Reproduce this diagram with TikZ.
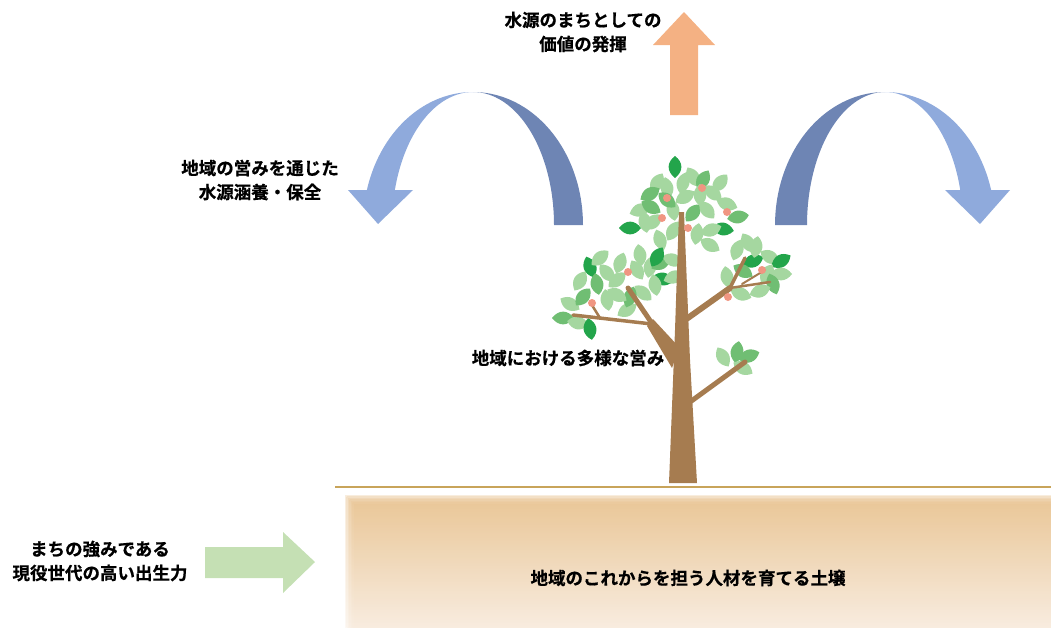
\documentclass[tikz,border=0pt]{standalone}
\usepackage{fontspec}
\newfontfamily\jp{Noto Sans CJK JP}[BoldFont={* Bold}, BoldFeatures={FakeBold=0.6}]
\definecolor{arrowLight}{RGB}{143,170,220}
\definecolor{arrowDark}{RGB}{110,133,180}
\definecolor{upOrange}{RGB}{244,177,131}
\definecolor{inGreen}{RGB}{197,224,180}
\definecolor{bark}{RGB}{166,124,80}
\definecolor{leafA}{RGB}{165,215,160}
\definecolor{leafB}{RGB}{112,190,115}
\definecolor{leafC}{RGB}{35,165,75}
\definecolor{fruit}{RGB}{240,150,130}
\definecolor{groundLine}{RGB}{200,164,90}
\definecolor{soilTop}{RGB}{232,195,145}
\definecolor{soilBot}{RGB}{247,234,220}
\begin{document}
\begin{tikzpicture}[x=1pt,y=-1pt,
  lbl/.style={font=\jp\bfseries\fontsize{17.5}{24}\selectfont, align=center, inner sep=0pt, text=black},
  branch/.style={draw=bark, line cap=round, line join=round}]
\useasboundingbox (0,0) rectangle (1051,627);

% ---- soil with soft edges ----
\foreach \k in {0,...,6}{
  \shade[top color=soilTop, bottom color=soilBot, fill opacity=0.3]
    (345+\k*1.5, 495+\k*1.5) rectangle (1051,627);
}
\draw[groundLine, line width=2.8pt] (335,487) -- (1051,487);

% ---- upward arrow ----
\fill[upOrange] (670,115) -- (670,45) -- (653,45) -- (684,12) -- (715,45) -- (698,45) -- (698,115) -- cycle;

% ---- inflow arrow ----
\fill[inGreen] (205,547) -- (283,547) -- (283,532) -- (315,562) -- (283,593) -- (283,578) -- (205,578) -- cycle;

% ---- left curved arrow (centre 473,225) ----
\fill[arrowDark] plot[domain=90:0, samples=40] ({473+110*cos(\x)},{225-133*sin(\x)})
  -- plot[domain=0:90, samples=40] ({473+81*cos(\x)},{225-133*sin(\x)}) -- cycle;
\fill[arrowLight] plot[domain=90:164.7, samples=40] ({473+110*cos(\x)},{225-133*sin(\x)})
  -- plot[domain=164.7:90, samples=40] ({473+81*cos(\x)},{225-133*sin(\x)}) -- cycle;
\fill[arrowLight] (348,190) -- (413,190) -- (378,224) -- cycle;

% ---- right curved arrow (centre 885,225) ----
\fill[arrowDark] plot[domain=90:180, samples=40] ({885+110*cos(\x)},{225-133*sin(\x)})
  -- plot[domain=180:90, samples=40] ({885+78*cos(\x)},{225-133*sin(\x)}) -- cycle;
\fill[arrowLight] plot[domain=90:15.3, samples=40] ({885+110*cos(\x)},{225-133*sin(\x)})
  -- plot[domain=15.3:90, samples=40] ({885+78*cos(\x)},{225-133*sin(\x)}) -- cycle;
\fill[arrowLight] (945,190) -- (1010,190) -- (980,224) -- cycle;

% ---- leaves ----
\foreach \lx/\ly/\la/\lc in {
  675/167/90/leafC, 657/183/60/leafA, 667/188/100/leafA, 683/183/75/leafA,
  693/177/120/leafA, 703/180/60/leafB, 650/194/30/leafB, 713/193/140/leafA,
  727/204/160/leafA, 738/217/10/leafB, 640/210/20/leafA, 651/207/150/leafB,
  630/228/0/leafC, 653/222/40/leafA, 673/210/100/leafA, 693/213/50/leafB,
  707/210/130/leafA, 723/229/170/leafC, 697/234/80/leafA, 711/230/20/leafA,
  673/231/60/leafA, 667/200/140/leafB, 685/197/30/leafA, 660/240/110/leafA,
  700/195/90/leafA, 720/183/50/leafA, 645/222/100/leafA, 710/245/150/leafA,
  590/267/110/leafC, 620/263/70/leafA, 607/273/130/leafA, 580/281/60/leafA,
  597/284/100/leafB, 617/280/40/leafA, 637/270/120/leafA, 650/267/80/leafA,
  661/263/30/leafB, 673/260/160/leafA, 657/257/60/leafC, 663/279/170/leafC,
  674/277/20/leafA, 570/304/150/leafA, 583/297/50/leafB, 607/300/100/leafA,
  627/310/30/leafA, 643/293/140/leafA, 563/318/0/leafB, 578/323/170/leafA,
  590/329/100/leafC, 630/297/70/leafB, 617/295/150/leafA, 655/285/100/leafA,
  600/258/40/leafA, 640/255/100/leafA,
  737/250/70/leafA, 748/243/120/leafA, 727/277/100/leafA, 753/261/20/leafC,
  770/257/150/leafA, 781/261/30/leafC, 743/271/150/leafB, 767/274/60/leafA,
  781/274/0/leafA, 773/284/110/leafB, 760/291/20/leafA, 741/294/160/leafA,
  756/247/80/leafA,
  723/357/120/leafA, 737/352/80/leafB, 749/356/20/leafB, 743/368/150/leafA}{
  \fill[\lc, shift={(\lx,\ly)}, rotate=\la]
    (-11,0) .. controls (-4,-9) and (5,-8) .. (11,0) .. controls (5,8) and (-4,9) .. (-11,0) -- cycle;
}

% ---- branches ----
\fill[bark] (672,368) -- (679,347) -- (653,319) -- (647,326) -- cycle;
\draw[branch, line width=5pt] (651,322) -- (628,288);
\draw[branch, line width=3.5pt] (652,324) -- (573,315);
\draw[branch, line width=2.5pt] (600,318) -- (590,302);
\draw[branch, line width=6pt] (685,320) -- (730,288);
\draw[branch, line width=3.5pt] (730,288) -- (745,258);
\draw[branch, line width=2.5pt] (730,288) -- (770,282);
\draw[branch, line width=2pt] (742,284) -- (765,270);
\draw[branch, line width=5pt] (690,402) -- (745,362);

% ---- trunk ----
\fill[bark] (669,483) -- (697,483) -- (690,360) -- (684,212) -- (679,212) -- (675,330) -- cycle;

% ---- fruits ----
\foreach \fx/\fy in {702/188, 662/218, 688/228, 667/198, 727/212, 628/272, 592/303, 762/270, 728/297}{
  \fill[fruit] (\fx,\fy) circle[radius=4];
}

% ---- labels ----
\node[lbl] (value) at (583,32) {水源のまちとしての\\価値の発揮};
\node[lbl] (conserve) at (260,180) {地域の営みを通じた\\水源涵養・保全};
\node[lbl] (diverse) at (568,358) {地域における多様な営み};
\node[lbl] (birth) at (100,561) {まちの強みである\\現役世代の高い出生力};
\node[lbl] (soil) at (688,578) {地域のこれからを担う人材を育てる土壌};
\end{tikzpicture}
\end{document}
